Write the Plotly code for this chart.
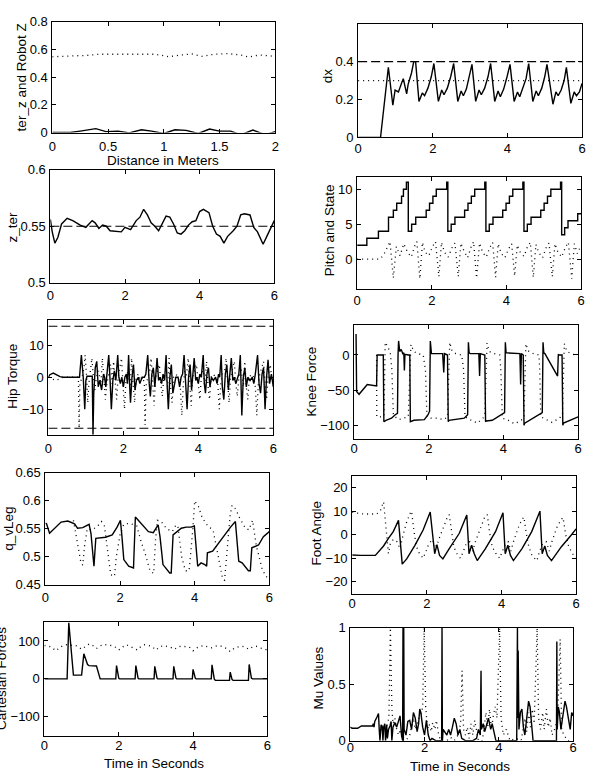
import plotly.graph_objects as go

W, H = 590, 783

# ---------------- data ----------------
# Panel 1: terrain z and robot z vs distance (m)
terrain = [(0, 0), (0.16, 0), (0.25, 0.01), (0.39, 0.028), (0.48, 0.007), (0.59, 0.01), (0.69, -0.002),
           (0.8, 0.02), (0.89, 0.01), (1.0, -0.007), (1.1, 0.02), (1.2, 0.016), (1.31, -0.007), (1.41, 0.025),
           (1.5, 0.01), (1.6, 0.01), (1.69, -0.016), (1.8, 0.018), (1.91, -0.016), (2.0, 0.007)]
robot_z = [(0, 0.547), (0.16, 0.55), (0.31, 0.557), (0.42, 0.565), (0.54, 0.565), (0.69, 0.56), (0.81, 0.563),
           (0.92, 0.565), (1.0, 0.555), (1.04, 0.547), (1.16, 0.56), (1.25, 0.568), (1.34, 0.55), (1.45, 0.565),
           (1.57, 0.57), (1.69, 0.56), (1.76, 0.545), (1.86, 0.56), (2.0, 0.55)]

# Panel 2: dx
dx_solid = [(0, 0), (0.6, 0), (0.81, 0.37), (0.93, 0.17), (0.99, 0.25), (1.08, 0.24), (1.17, 0.29), (1.21, 0.31),
            (1.3, 0.23), (1.34, 0.28), (1.43, 0.34), (1.49, 0.4), (1.54, 0.4), (1.63, 0.19),
            (1.72, 0.235), (1.78, 0.22), (1.87, 0.26), (1.96, 0.32), (2.03, 0.39), (2.15, 0.19),
            (2.24, 0.25), (2.3, 0.225), (2.39, 0.26), (2.48, 0.32), (2.56, 0.39), (2.67, 0.19),
            (2.76, 0.245), (2.82, 0.22), (2.9, 0.255), (2.98, 0.32), (3.05, 0.385), (3.15, 0.19),
            (3.24, 0.25), (3.3, 0.225), (3.39, 0.26), (3.48, 0.32), (3.55, 0.39), (3.66, 0.19),
            (3.75, 0.245), (3.81, 0.215), (3.9, 0.255), (3.99, 0.32), (4.07, 0.385), (4.18, 0.19),
            (4.27, 0.24), (4.33, 0.215), (4.41, 0.255), (4.5, 0.31), (4.57, 0.39), (4.68, 0.19),
            (4.77, 0.245), (4.83, 0.22), (4.92, 0.26), (5.0, 0.32), (5.06, 0.385), (5.22, 0.175),
            (5.3, 0.24), (5.36, 0.22), (5.44, 0.25), (5.52, 0.3), (5.58, 0.37), (5.7, 0.18),
            (5.79, 0.24), (5.85, 0.22), (5.93, 0.24), (6.0, 0.285)]
dx_max = 0.4
dx_des = 0.3

# Panel 3: z_ter
z_ter = [(0, 0.556), (0.05, 0.545), (0.12, 0.535), (0.2, 0.54), (0.3, 0.552), (0.45, 0.557), (0.6, 0.555),
         (0.8, 0.551), (0.95, 0.549), (1.05, 0.553), (1.12, 0.555), (1.2, 0.553), (1.3, 0.548), (1.4, 0.551),
         (1.5, 0.55), (1.6, 0.546), (1.8, 0.545), (1.9, 0.545), (2.0, 0.549), (2.1, 0.548), (2.15, 0.547),
         (2.3, 0.555), (2.4, 0.558), (2.5, 0.565), (2.6, 0.56), (2.7, 0.553), (2.8, 0.55), (2.9, 0.546),
         (3.0, 0.552), (3.1, 0.559), (3.2, 0.558), (3.3, 0.552), (3.4, 0.544), (3.5, 0.543), (3.6, 0.546),
         (3.7, 0.551), (3.8, 0.554), (3.9, 0.555), (4.0, 0.563), (4.1, 0.565), (4.25, 0.562), (4.35, 0.55),
         (4.45, 0.543), (4.55, 0.541), (4.65, 0.535), (4.75, 0.541), (4.9, 0.546), (5.0, 0.55), (5.1, 0.56),
         (5.2, 0.561), (5.35, 0.56), (5.45, 0.549), (5.55, 0.545), (5.7, 0.534), (5.8, 0.541), (5.9, 0.548),
         (6.0, 0.555)]
z_ref = 0.55

# Panel 4: state (staircase) and pitch
state_t = [0, 0.26, 0.57, 0.84, 0.97, 1.06, 1.19, 1.24, 1.32, 1.37,
           1.46, 1.57, 1.85, 1.94, 2.03, 2.12, 2.4, 2.43,
           2.52, 2.62, 2.88, 2.97, 3.06, 3.15, 3.42, 3.45,
           3.54, 3.64, 3.9, 3.99, 4.08, 4.17, 4.44, 4.47,
           4.56, 4.66, 4.92, 5.01, 5.1, 5.19, 5.45, 5.48,
           5.56, 5.65, 5.91, 6.0]
state_v = [2, 3, 4, 6, 7, 8, 9, 10, 11, 4,
           5, 6, 7, 8, 9, 10, 11, 4,
           5, 6, 7, 8, 9, 10, 11, 4,
           5, 6, 7, 8, 9, 10, 11, 4,
           5, 6, 7, 8, 9, 10, 11, 3.5,
           4.5, 5.5, 6.5, 6.5]
pitch = [(0, 0), (0.6, 0), (0.7, 0.5), (0.8, 1.5), (0.88, 2.5), (0.97, -2.7), (1.05, 1.8), (1.15, 0.5),
         (1.25, 2.2), (1.35, 1.0), (1.45, 0.3), (1.55, 2.0), (1.6, 2.5), (1.68, -2.8), (1.75, 2.4), (1.82, 1.0),
         (1.92, 0.5), (2.02, 1.8), (2.1, 2.5), (2.19, -2.5), (2.26, 2.4), (2.34, 1.0), (2.44, 0.3), (2.54, 1.6),
         (2.62, 2.3), (2.71, -2.5), (2.78, 2.3), (2.86, 1.2), (2.96, 0.2), (3.05, 1.7), (3.12, 2.5), (3.2, -2.7),
         (3.28, 2.3), (3.36, 1.0), (3.46, 0.3), (3.55, 1.6), (3.63, 2.4), (3.71, -2.6), (3.78, 2.2), (3.86, 0.8),
         (3.96, 0.2), (4.06, 1.5), (4.14, 2.2), (4.22, -2.4), (4.29, 2.0), (4.37, 1.0), (4.47, 0.4), (4.56, 1.7),
         (4.64, 2.4), (4.72, -2.6), (4.79, 2.1), (4.87, 0.9), (4.97, 0.2), (5.06, 1.6), (5.14, 2.3), (5.23, -2.5),
         (5.3, 2.2), (5.38, 1.0), (5.48, 0.3), (5.58, 1.7), (5.66, 2.4), (5.75, -2.8), (5.82, 2.2), (5.9, 0.8),
         (6.0, 2.0)]

# Panel 5: hip torque
hip_solid = [(0, 0), (0.04, 0.8), (0.13, 1.3), (0.22, 0.8), (0.31, 0.2), (0.4, 0), (0.83, 0), (0.88, 7),
             (0.93, 0), (0.97, -10), (1.0, -1), (1.03, 0.3), (1.17, 0.3), (1.19, -18), (1.21, -5), (1.25, 3),
             (1.29, 5), (1.33, -3), (1.37, -1), (1.42, -4), (1.47, 1), (1.5, 0), (1.53, -3), (1.57, 2),
             (1.61, 7), (1.65, -2), (1.68, -10), (1.72, -1), (1.76, 2), (1.8, -1), (1.85, 7), (1.88, 0),
             (1.92, -2), (1.96, 0), (2.0, -3), (2.04, 0), (2.08, 1), (2.11, -2), (2.14, 7), (2.17, -3),
             (2.19, -8), (2.23, 0), (2.27, 4), (2.31, -4), (2.35, -1), (2.4, 0), (2.44, -2), (2.5, 0),
             (2.56, 0), (2.6, 1), (2.65, 7), (2.69, -2), (2.72, -6), (2.76, 1), (2.8, 3), (2.84, -3),
             (2.9, 6), (2.94, -1), (2.98, 0), (3.02, -2), (3.06, 1), (3.1, -1), (3.14, 7), (3.17, -3),
             (3.2, -10), (3.24, 0), (3.28, 4), (3.32, -5), (3.36, -2), (3.4, 0), (3.46, 0), (3.5, -3),
             (3.54, 0), (3.58, 1), (3.62, 7), (3.66, -3), (3.7, -10), (3.74, 0), (3.78, 4), (3.82, -4),
             (3.89, 6), (3.93, -1), (3.96, 0), (4.0, -2), (4.04, 1), (4.08, 0), (4.13, 7), (4.16, -2),
             (4.19, -5), (4.23, 1), (4.27, 3), (4.31, -3), (4.35, 0), (4.4, -1), (4.46, 0), (4.5, -2),
             (4.54, 1), (4.57, 0), (4.61, 7), (4.64, -3), (4.68, -7), (4.72, 1), (4.76, 4), (4.8, -4),
             (4.88, 6), (4.92, -1), (4.96, 0), (5.0, -2), (5.04, 0), (5.08, 1), (5.12, 7), (5.14, -4),
             (5.16, -12), (5.2, 0), (5.24, 3), (5.28, -3), (5.32, 0), (5.38, -1), (5.44, 0), (5.48, -2),
             (5.52, 1), (5.58, 7), (5.62, -2), (5.66, -5), (5.7, 1), (5.74, 3), (5.78, -10), (5.82, 0),
             (5.86, 5.5), (5.9, -2), (5.95, 1), (6.0, -3)]
hip_dotted = [(0, 0), (0.1, -0.5), (0.2, -1), (0.3, -0.5), (0.4, 0), (0.8, 0), (0.82, -16), (0.84, -2),
              (0.9, 0), (0.95, 3), (0.98, 7), (1.02, 0), (1.05, -8), (1.08, -2), (1.12, 2), (1.16, 6),
              (1.2, 0), (1.24, -4), (1.28, 0), (1.34, 2), (1.4, -2), (1.44, 6), (1.48, 0), (1.52, -7),
              (1.56, -2), (1.6, 1), (1.66, 4), (1.7, -2), (1.74, 5), (1.78, -1), (1.82, -7), (1.86, 0),
              (1.9, 3), (1.95, 6), (1.99, -2), (2.03, -10), (2.07, -1), (2.12, 2), (2.18, -3), (2.22, 6),
              (2.26, -2), (2.3, -8), (2.34, 0), (2.4, 1), (2.46, -1), (2.52, 0), (2.56, -2), (2.58, -15),
              (2.61, -2), (2.66, 0), (2.7, 2), (2.74, 6), (2.78, -2), (2.82, -9), (2.86, 0), (2.9, 2),
              (2.96, 4), (3.0, -2), (3.04, -6), (3.08, 0), (3.13, 2), (3.18, -3), (3.22, 6), (3.26, -3),
              (3.3, -8), (3.34, 0), (3.4, 1), (3.46, 0), (3.52, -3), (3.56, -12), (3.6, -2), (3.64, 2),
              (3.68, 0), (3.73, 6), (3.77, -2), (3.81, -9), (3.85, 0), (3.9, 2), (3.95, 4), (4.0, -2),
              (4.04, -7), (4.08, 0), (4.13, 3), (4.17, -3), (4.22, 5), (4.26, -3), (4.3, -7), (4.34, 0),
              (4.4, 1), (4.46, 0), (4.52, -2), (4.56, -10), (4.6, -2), (4.64, 1), (4.7, 2), (4.74, 6),
              (4.78, -2), (4.82, -8), (4.86, 0), (4.92, 3), (4.96, 5), (5.0, -2), (5.04, -6), (5.08, 0),
              (5.14, 3), (5.2, -3), (5.24, 5), (5.28, -3), (5.32, -7), (5.36, 0), (5.42, 1), (5.48, 0),
              (5.52, -3), (5.56, -12), (5.6, -2), (5.64, 1), (5.7, 3), (5.74, 5), (5.78, -2), (5.82, -7),
              (5.86, 0), (5.92, 4), (5.96, -1), (6.0, 0)]
hip_limit = 16

# Panel 6: knee force
knee_solid = [(0.05, 30), (0.053, -50), (0.056, 30), (0.059, -50), (0.062, 30), (0.065, -52), (0.13, -56),
              (0.35, -42), (0.6, -44), (0.615, 0), (0.78, 0), (0.795, -95), (0.85, -93), (1.0, -90),
              (1.1, -85), (1.16, -83), (1.175, 0), (1.19, 20), (1.22, 5), (1.26, 8), (1.3, 2), (1.33, 3),
              (1.345, -22), (1.36, 1), (1.45, 0), (1.49, 0), (1.505, -95), (1.6, -93), (1.88, -92),
              (1.98, -85), (2.02, -80), (2.04, 20), (2.07, 2), (2.37, 2), (2.4, -25), (2.42, 2), (2.5, 0),
              (2.52, -95), (2.54, -93), (2.7, -92), (2.95, -90), (3.04, -85), (3.06, 18), (3.08, 3),
              (3.11, 2), (3.34, 2), (3.36, -30), (3.38, 2), (3.5, 0), (3.52, -95), (3.54, -94), (3.7, -93),
              (3.95, -85), (4.03, -82), (4.05, 18), (4.07, 3), (4.1, 3), (4.44, 2), (4.46, -42), (4.48, 2),
              (4.53, 0), (4.55, -100), (4.57, -97), (4.7, -93), (4.95, -85), (5.04, -82), (5.06, 18),
              (5.08, 3), (5.11, 2), (5.45, -30), (5.47, 1), (5.49, 0), (5.57, 0), (5.59, -100), (5.61, -97),
              (5.8, -93), (6.0, -88)]
knee_dotted = [(0.6, 0), (0.605, -88), (0.7, -88), (0.8, -87), (0.83, 18), (0.9, 12), (0.97, 2), (1.01, -21),
               (1.05, -86), (1.1, -88), (1.2, -92), (1.3, -90), (1.45, -88), (1.52, 15), (1.6, 5), (1.7, 2),
               (1.85, 0), (1.91, -22), (1.95, -88), (2.05, -90), (2.2, -90), (2.4, -92), (2.5, -88), (2.56, 18),
               (2.62, 6), (2.72, 2), (2.88, 0), (2.93, -20), (2.97, -88), (3.1, -92), (3.3, -97), (3.45, -90),
               (3.5, -85), (3.56, 17), (3.62, 5), (3.75, 2), (3.9, 0), (3.93, -22), (3.97, -90), (4.1, -92),
               (4.3, -98), (4.5, -92), (4.55, -87), (4.6, 16), (4.66, 6), (4.8, 2), (4.95, 0), (4.97, -18),
               (5.0, -88), (5.15, -92), (5.3, -96), (5.5, -90), (5.58, -85), (5.63, 16), (5.7, 5), (5.85, 1),
               (6.0, 0)]

# Panel 7: q_vLeg
qv_solid = [(0.0, 0.56), (0.03, 0.559), (0.11, 0.542), (0.25, 0.551), (0.42, 0.562), (0.6, 0.564),
            (0.78, 0.559), (0.86, 0.551), (1.0, 0.552), (1.17, 0.558), (1.22, 0.542), (1.3, 0.483),
            (1.35, 0.533), (1.61, 0.535), (1.79, 0.539), (1.92, 0.553), (2.01, 0.565), (2.05, 0.536),
            (2.1, 0.495), (2.23, 0.483), (2.36, 0.48), (2.41, 0.571), (2.58, 0.559), (2.76, 0.545),
            (2.89, 0.543), (3.02, 0.557), (3.07, 0.536), (3.15, 0.486), (3.33, 0.471), (3.37, 0.471),
            (3.42, 0.539), (3.64, 0.551), (3.77, 0.553), (3.9, 0.553), (3.99, 0.555), (4.08, 0.483),
            (4.17, 0.489), (4.27, 0.486), (4.32, 0.483), (4.34, 0.507), (4.48, 0.51), (4.7, 0.53),
            (4.96, 0.553), (5.09, 0.563), (5.18, 0.492), (5.27, 0.489), (5.44, 0.475), (5.49, 0.475),
            (5.53, 0.516), (5.71, 0.521), (5.84, 0.536), (6.0, 0.545)]
qv_dotted = [(0.75, 0.565), (0.85, 0.53), (0.95, 0.49), (1.0, 0.485), (1.05, 0.52), (1.12, 0.55), (1.25, 0.548),
             (1.4, 0.555), (1.5, 0.563), (1.58, 0.555), (1.65, 0.52), (1.75, 0.468), (1.85, 0.465), (1.9, 0.5),
             (2.0, 0.54), (2.1, 0.558), (2.25, 0.56), (2.45, 0.555), (2.55, 0.53), (2.7, 0.5), (2.8, 0.475),
             (2.9, 0.47), (2.95, 0.53), (3.0, 0.565), (3.1, 0.563), (3.25, 0.55), (3.4, 0.545), (3.5, 0.557),
             (3.55, 0.555), (3.65, 0.5), (3.75, 0.475), (3.85, 0.475), (3.95, 0.55), (4.0, 0.6), (4.1, 0.59),
             (4.2, 0.57), (4.35, 0.555), (4.45, 0.55), (4.5, 0.545), (4.65, 0.49), (4.75, 0.46), (4.8, 0.458),
             (4.85, 0.5), (4.95, 0.575), (5.0, 0.592), (5.1, 0.585), (5.2, 0.57), (5.35, 0.552), (5.45, 0.548),
             (5.55, 0.565), (5.65, 0.52), (5.8, 0.48), (5.9, 0.465), (6.0, 0.462)]

# Panel 8: foot angle
foot_solid = [(0, -8.6), (0.22, -8.8), (0.62, -8.8), (0.84, -4.8), (0.97, -1.6), (1.1, 1.3), (1.24, 6.1),
              (1.34, -12.5), (1.46, -10.3), (1.68, -4.5), (1.9, 2), (2.09, 9.6), (2.21, -8.1), (2.27, -4.2),
              (2.34, -8.8), (2.43, -10.3), (2.6, -5.9), (2.87, 0.6), (3.07, 8.4), (3.13, -8.1), (3.2, -4.5),
              (3.27, -8.1), (3.35, -11), (3.57, -5.9), (3.84, 1.3), (4.04, 9.3), (4.1, -8.1), (4.17, -4.5),
              (4.24, -8.8), (4.32, -11), (4.55, -5.9), (4.81, 1.3), (5.03, 10), (5.09, -8.1), (5.16, -4.8),
              (5.23, -8.8), (5.34, -11), (5.6, -5.2), (5.87, -0.1), (6.0, 2.5)]
foot_dotted = [(0, 9.5), (0.3, 8.8), (0.66, 8.8), (0.75, 10), (0.84, 14), (0.9, 5), (0.97, -8), (1.02, -4),
               (1.1, -2), (1.2, -3), (1.28, -6), (1.35, -1), (1.45, 5), (1.55, 9), (1.59, 10), (1.65, 2),
               (1.72, -5), (1.8, -8), (1.9, -10), (1.98, -7), (2.05, -4), (2.15, -2), (2.25, -6), (2.32, -2),
               (2.45, 3), (2.55, 7.5), (2.6, 8.5), (2.66, 1), (2.72, -5), (2.8, -8), (2.9, -10), (2.98, -7),
               (3.05, -4), (3.15, -3), (3.23, -7), (3.3, -3), (3.45, 3), (3.55, 7.5), (3.62, 8.5), (3.68, 1),
               (3.75, -5), (3.85, -8), (3.95, -10), (4.02, -7), (4.1, -4), (4.18, -3), (4.25, -7), (4.32, -3),
               (4.45, 3), (4.55, 6.5), (4.6, 7.5), (4.66, 1), (4.73, -5), (4.82, -9), (4.95, -11), (5.02, -7),
               (5.1, -4), (5.2, -3), (5.28, -7), (5.35, -3), (5.48, 3), (5.6, 6.5), (5.65, 7.3), (5.72, 0),
               (5.8, -5), (5.9, -8), (6.0, -10)]

# Panel 9: cartesian forces
cart_solid = [(0, 0), (0.61, 0), (0.655, 148), (0.78, 10), (1.0, 10), (1.06, 66), (1.16, 38), (1.2, 35),
              (1.4, 34), (1.5, 0), (1.92, 0), (1.94, 35), (2.0, 2), (2.02, 0), (2.44, 0), (2.46, 35),
              (2.52, 2), (2.54, 0), (2.95, 0), (2.97, 33), (3.03, 2), (3.05, 0), (3.46, 0), (3.48, 33),
              (3.54, 2), (3.56, 0), (3.98, 0), (4.0, 25), (4.06, 2), (4.08, 0), (4.49, 0), (4.51, 37),
              (4.57, 0), (4.6, -4), (4.98, -4), (5.0, 18), (5.05, -2), (5.08, -4), (5.49, -4), (5.51, 38),
              (5.57, 2), (5.6, 0), (6.0, 0)]
cart_dotted = [(0.0, 88), (0.1, 86), (0.2, 84), (0.3, 74), (0.4, 80), (0.5, 88), (0.6, 90), (0.7, 88),
               (0.8, 89), (0.9, 86), (1.0, 78), (1.1, 85), (1.2, 92), (1.3, 88), (1.4, 80), (1.5, 87),
               (1.6, 91), (1.7, 89), (1.8, 88), (1.9, 84), (2.0, 76), (2.1, 84), (2.2, 90), (2.3, 86),
               (2.4, 82), (2.5, 76), (2.6, 86), (2.7, 90), (2.8, 88), (2.9, 85), (3.0, 76), (3.1, 84),
               (3.2, 88), (3.3, 86), (3.4, 83), (3.5, 78), (3.6, 85), (3.7, 86), (3.8, 85), (3.9, 84),
               (4.0, 74), (4.1, 82), (4.2, 86), (4.3, 88), (4.4, 84), (4.5, 82), (4.6, 86), (4.7, 88),
               (4.8, 85), (4.9, 80), (5.0, 72), (5.1, 80), (5.2, 84), (5.3, 86), (5.4, 84), (5.5, 78),
               (5.6, 84), (5.7, 86), (5.8, 82), (5.9, 80), (6.0, 76)]

# Panel 10: mu values
mu_solid = [(0, 0.12), (0.05, 0.11), (0.2, 0.11), (0.3, 0.13), (0.6, 0.13), (0.62, 0.15), (0.64, 0.12),
            (0.66, 0.17), (0.72, 0.21), (0.76, 0.24), (0.78, 0.1), (0.8, 0), (0.83, 0.14), (0.86, 0.13),
            (0.88, 0), (0.9, 0.12), (0.93, 0.15), (0.95, 0), (0.98, 0.14), (1.0, 0.02), (1.03, 0.1),
            (1.07, 0.13), (1.1, 0.17), (1.12, 0), (1.15, 0.12), (1.2, 0.16), (1.25, 0.12), (1.3, 0.17),
            (1.34, 0.22), (1.38, 0.05), (1.41, 0), (1.42, 1.0), (1.43, 0), (1.44, 1.0), (1.45, 0.1),
            (1.5, 0.05), (1.55, 0.17), (1.6, 0.18), (1.65, 0.1), (1.7, 0.25), (1.75, 0.2), (1.8, 0.08),
            (1.84, 0.15), (1.87, 0.28), (1.9, 0.25), (1.95, 0.12), (2.0, 0.05), (2.05, 0.18), (2.1, 0.05),
            (2.15, 0.0), (2.2, 0.02), (2.3, 0.0), (2.46, 0), (2.47, 1.0), (2.48, 0), (2.5, 0.1), (2.55, 0.08),
            (2.6, 0.05), (2.65, 0.1), (2.7, 0.05), (2.75, 0.12), (2.8, 0.2), (2.85, 0.15), (2.9, 0.05),
            (2.95, 0.1), (3.0, 0.02), (3.1, 0.0), (3.3, 0.0), (3.4, 0.02), (3.45, 0.1), (3.5, 0.05),
            (3.52, 0.62), (3.53, 0.1), (3.58, 0.15), (3.62, 0.08), (3.68, 0.14), (3.72, 0.2), (3.78, 0.1),
            (3.82, 0.15), (3.88, 0.06), (3.92, 0.0), (4.48, 0.0), (4.5, 1.0), (4.51, 0.2), (4.52, 0.8),
            (4.54, 0.1), (4.58, 0.25), (4.62, 0.28), (4.66, 0.12), (4.7, 0.05), (4.75, 0.22), (4.8, 0.35),
            (4.84, 0.3), (4.88, 0.15), (4.92, 0.0), (5.55, 0.0), (5.56, 0.88), (5.57, 0.1), (5.6, 0.3),
            (5.63, 0.25), (5.67, 0.1), (5.72, 0.22), (5.78, 0.35), (5.82, 0.3), (5.88, 0.18), (5.92, 0.1),
            (5.96, 0.25), (6.0, 0.22)]
mu_dotted = [(0.8, 0.05), (0.85, 0.1), (0.9, 0.12), (0.95, 0.08), (1.0, 0.15), (1.04, 0.2), (1.08, 1.0),
             (1.12, 0.3), (1.15, 0.15), (1.2, 0.2), (1.25, 0.1), (1.3, 0.05), (1.35, 0.1), (1.4, 0.0),
             (1.5, 0.0), (1.6, 0.05), (1.65, 0.12), (1.7, 0.2), (1.75, 0.1), (1.8, 0.15), (1.85, 0.2),
             (1.9, 0.22), (1.95, 0.3), (1.99, 1.0), (2.03, 0.3), (2.08, 0.1), (2.12, 0.15), (2.18, 0.08),
             (2.22, 0.16), (2.28, 0.1), (2.32, 0.18), (2.38, 0.05), (2.44, 0.0), (2.6, 0.0), (2.7, 0.03),
             (2.8, 0.0), (2.9, 0.05), (2.97, 0.15), (3.01, 0.62), (3.05, 0.1), (3.1, 0.05), (3.15, 0.12),
             (3.2, 0.02), (3.25, 0.15), (3.3, 0.05), (3.35, 0.18), (3.4, 0.08), (3.45, 0.0), (3.55, 0.0),
             (3.6, 0.1), (3.65, 0.25), (3.7, 0.12), (3.75, 0.28), (3.8, 0.1), (3.85, 0.22), (3.9, 0.3),
             (3.95, 0.2), (4.02, 1.0), (4.06, 0.2), (4.12, 0.05), (4.2, 0.1), (4.3, 0.0), (4.45, 0.02),
             (4.6, 0.0), (4.65, 0.1), (4.7, 0.2), (4.75, 0.08), (4.8, 0.25), (4.85, 0.12), (4.9, 0.28),
             (4.95, 0.15), (5.03, 1.0), (5.07, 0.2), (5.12, 0.1), (5.18, 0.25), (5.22, 0.1), (5.28, 0.28),
             (5.33, 0.12), (5.38, 0.2), (5.43, 0.05), (5.5, 0.1), (5.58, 0.2), (5.65, 0.9), (5.69, 0.1),
             (5.75, 0.05), (5.85, 0.0), (6.0, 0.0)]

# axis titles
ytitles = ["ter_z and Robot Z", "dx", "z_ter", "Pitch and State", "Hip Torque",
           "Knee Force", "q_vLeg", "Foot Angle", "Cartesian Forces", "Mu Values"]
xtitles = ["Distance in Meters", "Time in Seconds", "Time in Seconds"]

# ---------------- layout ----------------
MINUS = "\u2212"


def lbl(v):
    return ("%g" % v).replace("-", MINUS)


# (pixel box x0, y0, x1, y1), x range, y range, x ticks, y ticks, x tick label standoff
panels = [
    ((49, 15, 275, 128), [0, 2], [0, 0.8], [0, 0.5, 1, 1.5, 2], [0, 0.2, 0.4, 0.6, 0.8], 2),
    ((359, 17, 586, 133), [0, 6], [0, 0.6], [0, 2, 4, 6], [0, 0.2, 0.4], -1),
    ((47, 166, 274, 281), [0, 6], [0.5, 0.6], [0, 2, 4, 6], [0.5, 0.55, 0.6], 1),
    ((358, 173, 585, 287), [0, 6], [-4.2, 11.8], [0, 2, 4, 6], [0, 5, 10], 0),
    ((45, 319, 273, 436), [0, 6], [-18, 18], [0, 2, 4, 6], [-10, 0, 10], 2),
    ((355, 324, 582, 440), [0, 6], [-119, 43], [0, 2, 4, 6], [-100, -50, 0], -2),
    ((42, 475, 269, 589), [0, 6], [0.45, 0.65], [0, 2, 4, 6], [0.45, 0.5, 0.55, 0.6, 0.65], 1),
    ((353, 478, 580, 598), [0, 6], [-25, 25], [0, 2, 4, 6], [-20, -10, 0, 10, 20], -2),
    ((41, 627, 267, 743), [0, 6], [-150, 150], [0, 2, 4, 6], [-100, 0, 100], -2),
    ((351, 633, 577, 748), [0, 6], [0, 1], [0, 2, 4, 6], [0, 0.5, 1], -5),
]

FONT = "Liberation Sans, Arial, Helvetica, sans-serif"
layout = dict(width=W, height=H, margin=dict(l=0, r=0, t=0, b=0),
              paper_bgcolor="white", plot_bgcolor="white", showlegend=False,
              font=dict(family=FONT, size=13, color="black"))

for i, (box, xr, yr, xt, yt, xso) in enumerate(panels):
    n = "" if i == 0 else str(i + 1)
    x0, y0, x1, y1 = box
    common = dict(showline=True, linecolor="black", linewidth=1, mirror="ticks", ticks="inside",
                  ticklen=4, tickcolor="black", tickwidth=1, showgrid=False, zeroline=False,
                  tickfont=dict(family=FONT, size=13, color="black"), fixedrange=True)
    layout["xaxis" + n] = dict(common, domain=[x0 / W, x1 / W], range=xr, tickvals=xt,
                               ticktext=[lbl(v) for v in xt], anchor="y" + n, ticklabelstandoff=xso)
    layout["yaxis" + n] = dict(common, domain=[1 - y1 / H, 1 - y0 / H], range=yr, tickvals=yt,
                               ticktext=[lbl(v) for v in yt], anchor="x" + n, ticklabelstandoff=1)

fig = go.Figure()
fig.update_layout(**layout)

SOLID = dict(color="black", width=1.4)
DOT = dict(color="black", width=1.3, dash="1px,4px")
DASH = dict(color="black", width=1.1, dash="9px,4px")


def add(pairs, idx, line, shape="linear"):
    n = "" if idx == 0 else str(idx + 1)
    xs = [p[0] for p in pairs]
    ys = [p[1] for p in pairs]
    fig.add_trace(go.Scatter(x=xs, y=ys, mode="lines", line=dict(line, shape=shape),
                             xaxis="x" + n, yaxis="y" + n, hoverinfo="skip"))


add(terrain, 0, SOLID)
add(robot_z, 0, DOT)

add([(0, dx_max), (6, dx_max)], 1, DASH)
add([(0, dx_des), (6, dx_des)], 1, DOT)
add(dx_solid, 1, SOLID)

add([(0, z_ref), (6, z_ref)], 2, DASH)
add(z_ter, 2, SOLID)

add(list(zip(state_t, state_v)), 3, SOLID, shape="hv")
add(pitch, 3, DOT)

add([(0, hip_limit), (6, hip_limit)], 4, DASH)
add([(0, -hip_limit), (6, -hip_limit)], 4, DASH)
add(hip_dotted, 4, DOT)
add(hip_solid, 4, SOLID)

add(knee_dotted, 5, DOT)
add(knee_solid, 5, SOLID)

add(qv_dotted, 6, DOT)
add(qv_solid, 6, SOLID)

add(foot_dotted, 7, DOT)
add(foot_solid, 7, SOLID)

add(cart_dotted, 8, DOT)
add(cart_solid, 8, SOLID)

add(mu_dotted, 9, DOT)
add(mu_solid, 9, SOLID)

# y-axis titles (rotated); the "Cartesian Forces" title is cut by the left page edge as in the figure
ytitle_pos = [(18, 72), (328, 70), (9, 224), (330, 228), (9, 376), (312, 382),
              (5, 532), (317, 536), (-2, 685), (319, 684)]
anns = []
for t, (px, py) in zip(ytitles, ytitle_pos):
    anns.append(dict(text=t, x=px / W, y=1 - py / H, xref="paper", yref="paper", textangle=-90,
                     showarrow=False, xanchor="center", yanchor="middle",
                     font=dict(family=FONT, size=13.5, color="black")))
xtitle_pos = [(161, 157), (152, 771), (462, 774)]
for t, (px, py) in zip(xtitles, xtitle_pos):
    anns.append(dict(text=t, x=px / W, y=1 - py / H, xref="paper", yref="paper", showarrow=False,
                     xanchor="center", yanchor="middle", font=dict(family=FONT, size=13.5, color="black")))
fig.update_layout(annotations=anns)

fig.write_html("out.html")
